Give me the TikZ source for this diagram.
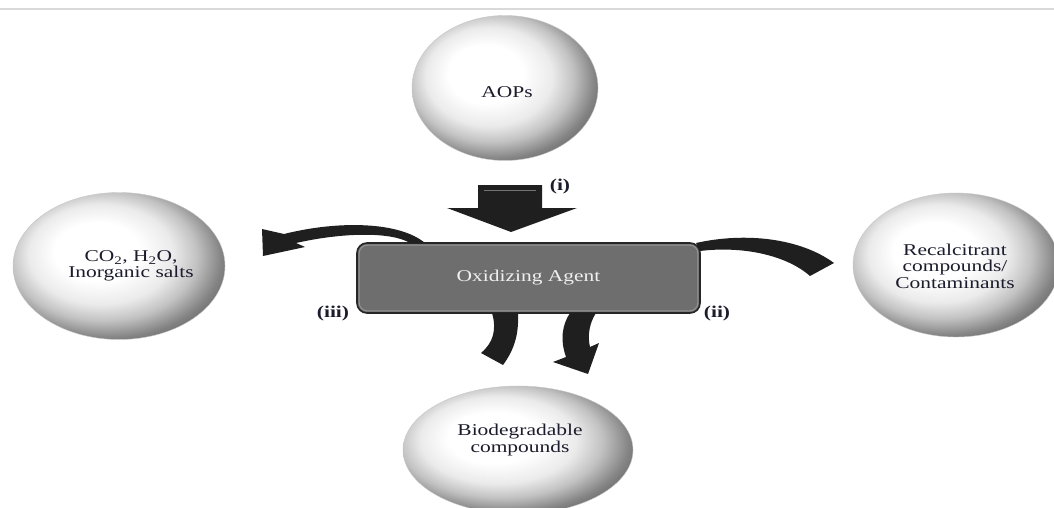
\documentclass[tikz,border=0pt]{standalone}
\usepackage{fontspec}
\setmainfont{Liberation Serif}[FakeStretch=1.3]
\usetikzlibrary{shapes.geometric}
\pgfdeclareradialshading{spherish}{\pgfpoint{-6.5bp}{6bp}}{color(0bp)=(white); color(10bp)=(white); color(17bp)=(black!8); color(22bp)=(black!24); color(27bp)=(black!48); color(30bp)=(black!58); color(33bp)=(black!48); color(37bp)=(black!38); color(50bp)=(black!38)}
\definecolor{inkc}{RGB}{28,28,45}
\begin{document}
\begin{tikzpicture}[x=1pt,y=-1pt,
  sphere/.style={ellipse, shading=spherish, draw=black!22, line width=0.4pt, inner sep=0pt},
  sphtext/.style={align=center, text=inkc, inner sep=0pt, font=\fontsize{16.5}{16.5}\selectfont},
  band/.style={fill=black!88, draw=none},
  lbl/.style={font=\fontsize{16.5}{17}\selectfont\bfseries, text=inkc, inner sep=0pt}]
\clip (0,0) rectangle (1054,508);
\fill[white] (0,0) rectangle (1054,508);
\draw[black!15, line width=1.2pt] (0,9) -- (1054,9);

% spheres
\node[sphere, minimum width=186pt, minimum height=145pt] (aops) at (505,88) {};
\node[sphtext] (taops) at (507,92) {AOPs};
\node[sphere, minimum width=212pt, minimum height=147pt] (prod) at (119,266) {};
\node[sphtext] (tprod) at (131,266) {CO\textsubscript{2}, H\textsubscript{2}O,\\Inorganic salts};
\node[sphere, minimum width=206pt, minimum height=144pt] (recal) at (956,265) {};
\node[sphtext] (trecal) at (955,266) {Recalcitrant\\compounds/\\Contaminants};
\node[sphere, minimum width=230pt, minimum height=128pt] (bio) at (518,450) {};
\node[sphtext] (tbio) at (520,440) {Biodegradable\\compounds};

% oxidizing agent box
\node[draw=black!85, line width=1.6pt, fill=black!57, rounded corners=10pt,
      minimum width=343pt, minimum height=70pt, text=black!6,
      font=\fontsize{16.5}{17}\selectfont] (ox) at (528.5,278) {Oxidizing Agent};
\draw[black!42, line width=1pt, rounded corners=8pt]
  ([shift={(3pt,-3pt)}]ox.north west) rectangle ([shift={(-3pt,3pt)}]ox.south east);

% (i) down arrow
\fill[band] (478,185) -- (542,185) -- (542,208) -- (577,208) -- (511,232) -- (447,208) -- (478,208) -- cycle;
\draw[black!55, line width=1pt] (484,190) -- (536,190);
\node[lbl] (li) at (560,187) {(i)};

% (iii) left curved arrow
\fill[band] (425,243) .. controls (400,222) and (340,220) .. (284,234)
  -- (262,229) -- (263,256) -- (305,247) -- (296,243)
  .. controls (345,232) and (392,232) .. (410,243) -- cycle;
\node[lbl] (liii) at (333,314) {(iii)};

% (ii) right band
\fill[band] (696,243) .. controls (745,232) and (800,238) .. (834,263)
  -- (810,276) .. controls (785,254) and (740,246) .. (700,251) -- cycle;
\node[lbl] (lii) at (717,314) {(ii)};

% bottom bands
\fill[band] (492,313) .. controls (497,330) and (493,343) .. (481,353)
  -- (503,365) .. controls (514,350) and (519,335) .. (518,313) -- cycle;
\fill[band] (570,313) .. controls (562,325) and (560,340) .. (566,357)
  -- (553,362) -- (588,374) -- (599,343) -- (590,347)
  .. controls (587,335) and (590,322) .. (596,313) -- cycle;
\end{tikzpicture}
\end{document}
